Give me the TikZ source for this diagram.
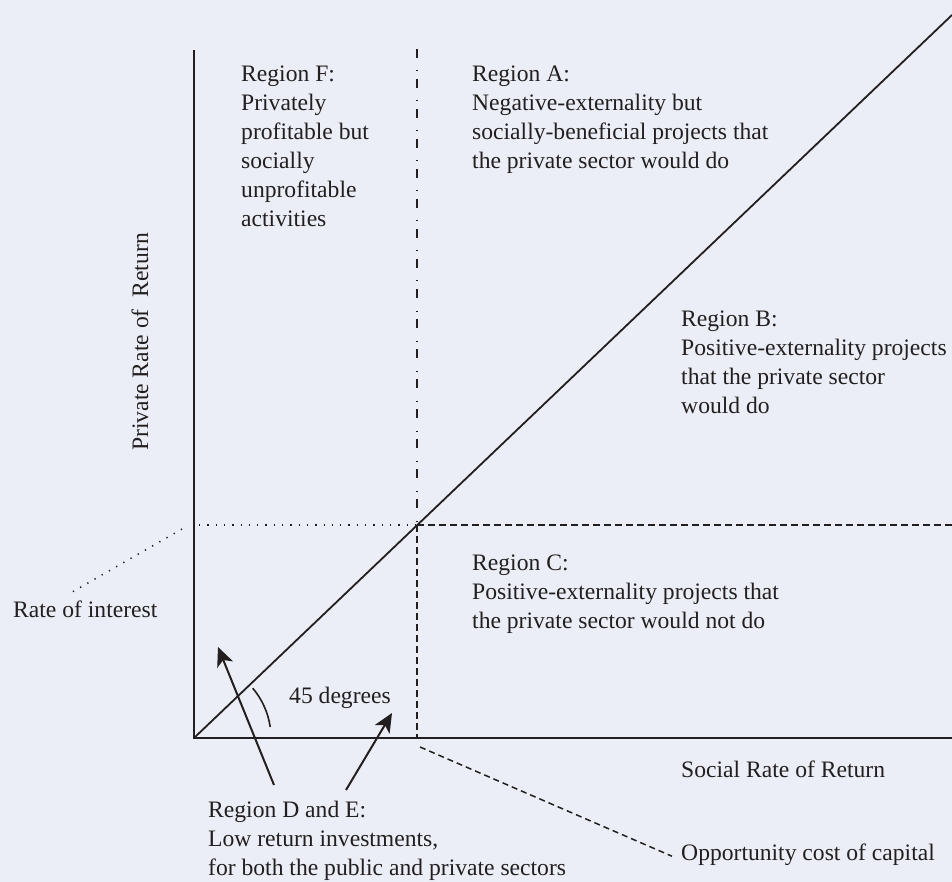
\documentclass[tikz,border=0pt]{standalone}
\usepackage{fontspec}
\setmainfont{Liberation Serif}
\usetikzlibrary{arrows.meta,calc}
\definecolor{bgc}{RGB}{235,238,246}
\definecolor{ink}{RGB}{35,31,32}
\begin{document}
\begin{tikzpicture}[x=1pt,y=-1pt,
  lbl/.style={inner sep=0pt, font=\fontsize{23.6}{29}\selectfont, text=ink, align=left, anchor=base west},
  axisline/.style={line width=2.2pt, draw=ink},
  diag/.style={line width=1.8pt, draw=ink},
  dashdotline/.style={line width=1.6pt, draw=ink, dash pattern=on 9pt off 12.5pt on 1pt off 7.5pt},
  dashline/.style={line width=1.6pt, draw=ink, dash pattern=on 7pt off 4pt},
  dotline/.style={line width=1.5pt, draw=ink, dash pattern=on 1.3pt off 7pt},
  oppline/.style={line width=1.5pt, draw=ink, dash pattern=on 6pt off 4pt},
  arr/.style={line width=2pt, draw=ink, -{Stealth[length=19pt,width=17pt,inset=5pt]}}
]
\fill[bgc] (0,0) rectangle (952,882);
\useasboundingbox (0,0) rectangle (952,882);
% coordinates
\coordinate (O) at (194,738);
\coordinate (ytop) at (194,50);
\coordinate (xend) at (952,738);
\coordinate (dend) at (952,15);
\coordinate (vtop) at (417,49);
\coordinate (X) at (417,525);
\coordinate (vbot) at (417,738);
\coordinate (hL) at (199,525);
\coordinate (hR) at (952,525);
\coordinate (roiA) at (182,529);
\coordinate (roiB) at (67,595);
\coordinate (occA) at (420,747);
\coordinate (a1s) at (274,785);
\coordinate (a1e) at (218,647);
\coordinate (a2s) at (346,790);
\coordinate (a2e) at (392,713);
% axes
\draw[axisline] (ytop) -- (O) -- (xend);
\draw[diag] (O) -- (dend);
\draw[dashdotline] (vtop) -- (X);
\draw[dashline] (X) -- (vbot);
\draw[dotline] (hL) -- (X);
\draw[dashline] (X) -- (hR);
\draw[dotline] (roiA) -- (roiB);
\draw[line width=1.6pt, draw=ink] ([shift={(8.2:77pt)}]O) arc[start angle=8.2, end angle=40.3, radius=77pt];
% labels (anchor = baseline of the last line)
\node[lbl] (rF) at (241,227) {Region F:\\Privately\\profitable but\\socially\\unprofitable\\activities};
\node[lbl] (rA) at (472,169) {Region A:\\Negative-externality but\\socially-beneficial projects that\\the private sector would do};
\node[lbl] (rB) at (681,413) {Region B:\\Positive-externality projects\\that the private sector\\would do};
\node[lbl] (rC) at (472,628) {Region C:\\Positive-externality projects that\\the private sector would not do};
\node[lbl] (rDE) at (208,875) {Region D and E:\\Low return investments,\\for both the public and private sectors};
\node[lbl] (srr) at (681,777) {Social Rate of Return};
\node[lbl] (occ) at (681,860) {Opportunity cost of capital};
\node[lbl] (roi) at (13,617) {Rate of interest};
\node[lbl, rotate=90, anchor=base] (prr) at (148,342) {Private Rate of\ \ Return};
\node[lbl] (deg) at (289,703) {45 degrees};
% connectors
\draw[oppline] (occA) -- ([xshift=-9pt,yshift=-2pt]occ.west);
\draw[arr] (a1s) -- (a1e);
\draw[arr] (a2s) -- (a2e);
\end{tikzpicture}
\end{document}
